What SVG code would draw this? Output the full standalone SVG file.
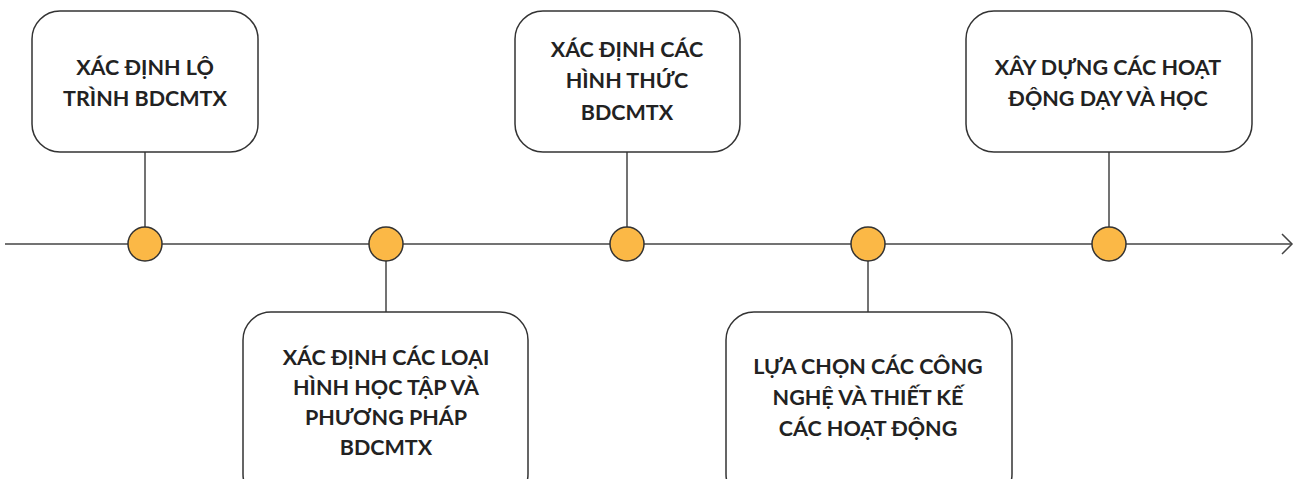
<svg xmlns="http://www.w3.org/2000/svg" width="1297" height="479" viewBox="0 0 1297 479">
<defs>
<style>
.box{fill:#fff;stroke:#333;stroke-width:1.5}
.dot{fill:#fbb846;stroke:#333;stroke-width:1.5}
.ln{stroke:#444;stroke-width:1.5;fill:none}
.t{font-family:Lato,"Open Sans","Liberation Sans",sans-serif;font-weight:bold;font-size:21.5px;fill:#222;text-anchor:middle}
</style>
</defs>
<rect width="1297" height="479" fill="#fff"/>
<g id="connectors">
<line class="ln" x1="5" y1="244" x2="1291" y2="244"/>
<polyline class="ln" points="1282,234 1292,244 1282,254"/>
<line class="ln" x1="145" y1="152" x2="145" y2="244"/>
<line class="ln" x1="386" y1="244" x2="386" y2="312"/>
<line class="ln" x1="627" y1="152" x2="627" y2="244"/>
<line class="ln" x1="868" y1="244" x2="868" y2="312"/>
<line class="ln" x1="1109" y1="152" x2="1109" y2="244"/>
</g>
<g id="node1">
<rect class="box" x="32" y="11" width="226" height="141" rx="28"/>
<text class="t" x="145" y="75">XÁC ĐỊNH LỘ</text>
<text class="t" x="145" y="106">TRÌNH BDCMTX</text>
<circle class="dot" cx="145" cy="244" r="17"/>
</g>
<g id="node2">
<rect class="box" x="243" y="312" width="285" height="190" rx="28"/>
<text class="t" x="386" y="365">XÁC ĐỊNH CÁC LOẠI</text>
<text class="t" x="386" y="395">HÌNH HỌC TẬP VÀ</text>
<text class="t" x="386" y="425">PHƯƠNG PHÁP</text>
<text class="t" x="386" y="455">BDCMTX</text>
<circle class="dot" cx="386" cy="244" r="17"/>
</g>
<g id="node3">
<rect class="box" x="515" y="11" width="225" height="141" rx="28"/>
<text class="t" x="627" y="57">XÁC ĐỊNH CÁC</text>
<text class="t" x="627" y="88">HÌNH THỨC</text>
<text class="t" x="627" y="120">BDCMTX</text>
<circle class="dot" cx="627" cy="244" r="17"/>
</g>
<g id="node4">
<rect class="box" x="726" y="312" width="286" height="190" rx="28"/>
<text class="t" x="868" y="374">LỰA CHỌN CÁC CÔNG</text>
<text class="t" x="868" y="405">NGHỆ VÀ THIẾT KẾ</text>
<text class="t" x="868" y="436">CÁC HOẠT ĐỘNG</text>
<circle class="dot" cx="868" cy="244" r="17"/>
</g>
<g id="node5">
<rect class="box" x="966" y="11" width="286" height="141" rx="28"/>
<text class="t" x="1108" y="75">XÂY DỰNG CÁC HOẠT</text>
<text class="t" x="1108" y="106">ĐỘNG DẠY VÀ HỌC</text>
<circle class="dot" cx="1109" cy="244" r="17"/>
</g>
</svg>
